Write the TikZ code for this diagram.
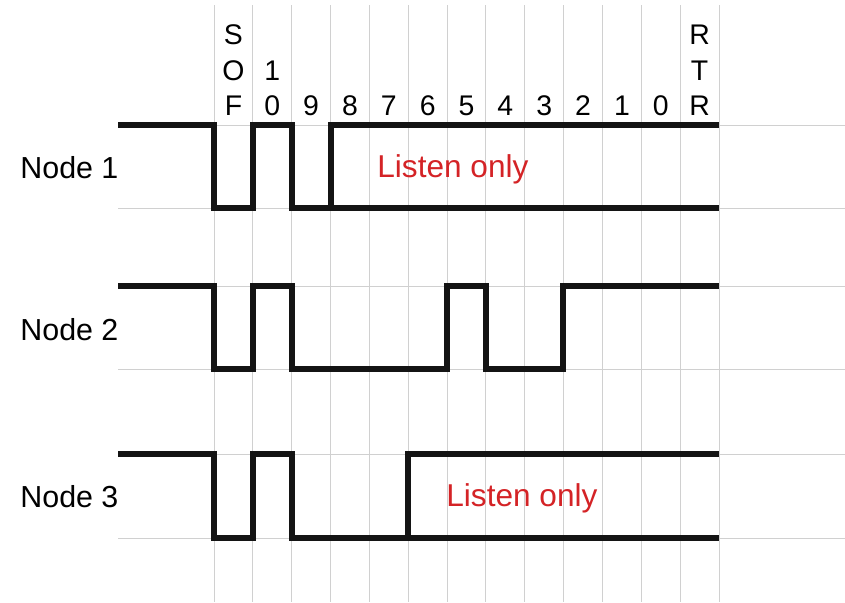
\documentclass[tikz,border=0pt]{standalone}
\usepackage{fontspec}
\setmainfont{Liberation Sans}
\usepackage{xcolor}
\usepackage{tikz}

\definecolor{listenred}{RGB}{212,35,38}
\definecolor{gridgray}{RGB}{208,208,208}

\begin{document}
\begin{tikzpicture}[
  x=0.5pt, y=-0.5pt,
  gridline/.style={draw=gridgray, line width=0.5pt},
  signal/.style={draw=black!92, line width=3.4pt, line join=miter},
  nodelabel/.style={anchor=base west, inner sep=0pt, font=\fontsize{15.2}{18}\selectfont},
  bitlabel/.style={anchor=base, inner sep=0pt, font=\fontsize{14.2}{17}\selectfont},
  listen/.style={anchor=base west, inner sep=0pt, text=listenred, font=\fontsize{15.8}{19}\selectfont},
]
  \useasboundingbox (0,0) rectangle (845,602);

  % Grid: one column per bit
  \foreach \i in {0,...,13}
    \draw[gridline] ({214+38.85*\i},5) -- ({214+38.85*\i},602);
  \foreach \y in {125,208,286,369,454,538}
    \draw[gridline] (118,\y) -- (845,\y);

  % Bit labels
  \foreach \lbl [count=\c from 0] in {F,0,9,8,7,6,5,4,3,2,1,0,R}
    \node[bitlabel] (bit\c) at ({214+38.85*(\c+0.5)},115) {\lbl};
  \node[bitlabel] (sofO) at ({214+38.85*0.5},80) {O};
  \node[bitlabel] (sofS) at ({214+38.85*0.5},44) {S};
  \node[bitlabel] (idten) at ({214+38.85*1.5},80) {1};
  \node[bitlabel] (rtrT) at ({214+38.85*12.5},80) {T};
  \node[bitlabel] (rtrR) at ({214+38.85*12.5},44) {R};

  % Node names
  \node[nodelabel] (node1) at (20,178) {Node 1};
  \node[nodelabel] (node2) at (20,340) {Node 2};
  \node[nodelabel] (node3) at (20,507) {Node 3};

  % Node 1
  \draw[signal] (118,125) -| (214,208) -| (253,125) -| (292,208) -- (719,208);
  \draw[signal] (331,208) |- (719,125);
  \node[listen] (listen1) at (377,177) {Listen only};

  % Node 2
  \draw[signal] (118,286) -| (214,369) -| (253,286) -| (292,369) -| (447,286)
    -| (486,369) -| (563,286) -- (719,286);

  % Node 3
  \draw[signal] (118,454) -| (214,538) -| (253,454) -| (292,538) -- (719,538);
  \draw[signal] (408,538) |- (719,454);
  \node[listen] (listen3) at (446,506) {Listen only};
\end{tikzpicture}
\end{document}
